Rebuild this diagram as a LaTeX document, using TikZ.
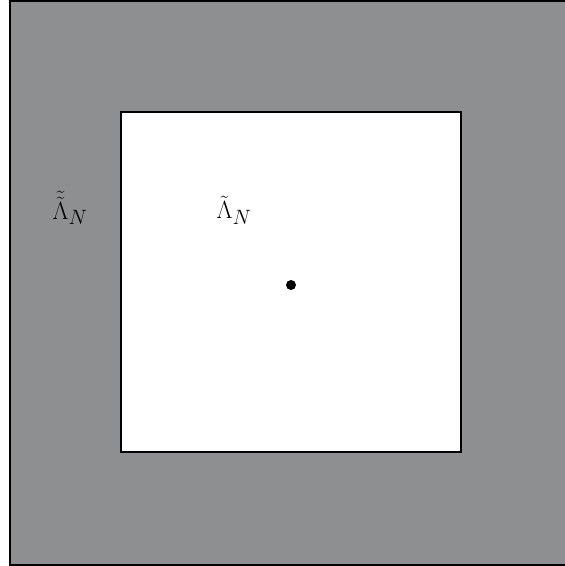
\documentclass[tikz,border=0pt]{standalone}
\begin{document}
\begin{tikzpicture}[x=1pt,y=-1pt,
  lbl/.style={inner sep=0pt,font=\fontsize{32}{38}\selectfont}]
\definecolor{gr}{RGB}{142,143,145}
\useasboundingbox (0,0) rectangle (565,566);
\begin{scope}
\clip (0,0) rectangle (565,566);
\draw[line width=2pt,fill=gr] (10,1) rectangle (575,565);
\end{scope}
\draw[line width=2pt,fill=white] (121,112) rectangle (461,452);
\fill (291,285) circle (5);
\node[lbl] (outer) at (70,208) {$\tilde{\tilde{\Lambda}}_N$};
\node[lbl] (inner) at (234,210) {$\tilde{\Lambda}_N$};
\end{tikzpicture}
\end{document}
